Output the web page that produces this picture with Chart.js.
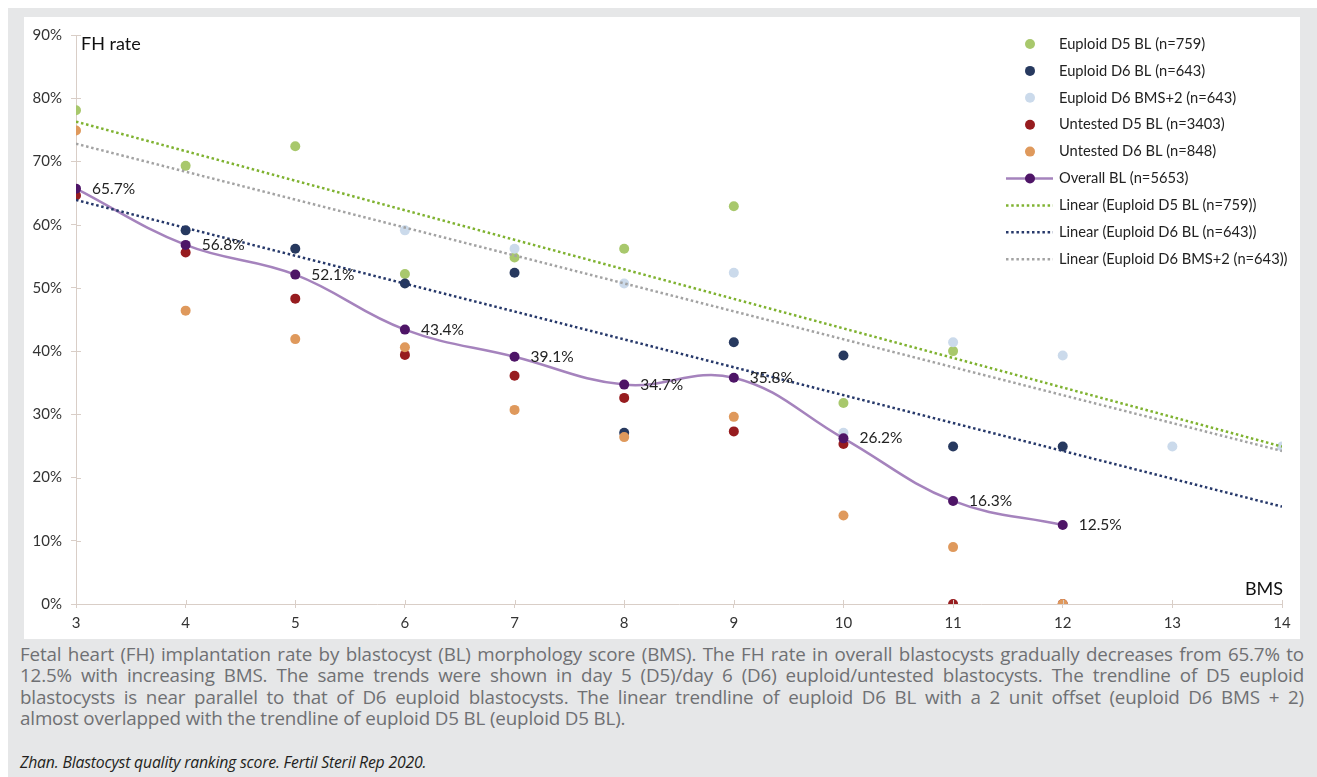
<!DOCTYPE html>
<html>
<head>
<meta charset="utf-8">
<script src="https://cdn.jsdelivr.net/npm/chart.js@4.4.0/dist/chart.umd.min.js"></script>
<style>
  body { margin: 0; background: #fff; width: 1317px; height: 777px; overflow: hidden; position: relative; }
  #frame { position: absolute; left: 8px; top: 8px; width: 1309px; height: 769px; background: #e6e7e8; }
  #panel { position: absolute; left: 16px; top: 9px; width: 1276px; height: 622px; background: #fff; }
  #caption { position: absolute; left: 12px; top: 636px; width: 1284px; font-family: "Open Sans", sans-serif; font-size: 18.8px; letter-spacing: -0.15px; line-height: 21.3px; color: #6f7073; }
  #caption div { text-align: justify; text-align-last: justify; white-space: nowrap; }
  #caption div.last { text-align-last: left; }
  #cite { position: absolute; left: 12px; top: 743px; font-family: "Open Sans", sans-serif; font-style: italic; font-size: 15.8px; letter-spacing: -0.2px; color: #231f20; }
</style>
</head>
<body>
<div id="frame">
  <div id="panel"><canvas id="myChart" width="1276" height="622"></canvas></div>
  <div id="caption">
    <div>Fetal heart (FH) implantation rate by blastocyst (BL) morphology score (BMS). The FH rate in overall blastocysts gradually decreases from 65.7% to</div>
    <div>12.5% with increasing BMS. The same trends were shown in day 5 (D5)/day 6 (D6) euploid/untested blastocysts. The trendline of D5 euploid</div>
    <div>blastocysts is near parallel to that of D6 euploid blastocysts. The linear trendline of euploid D6 BL with a 2 unit offset (euploid D6 BMS + 2)</div>
    <div class="last">almost overlapped with the trendline of euploid D5 BL (euploid D5 BL).</div>
  </div>
  <div id="cite">Zhan. Blastocyst quality ranking score. Fertil Steril Rep 2020.</div>
</div>
<script>
var bms = [3, 4, 5, 6, 7, 8, 9, 10, 11, 12];
var bmsPlus2 = [6, 7, 8, 9, 10, 11, 12, 13, 14];
var euploidD5 = [78.1, 69.3, 72.4, 52.2, 54.8, 56.2, 62.9, 31.8, 40.0, null];
var euploidD6 = [null, 59.1, 56.2, 50.7, 52.4, 27.1, 41.4, 39.3, 24.9, 24.9];
var euploidD6Plus2 = [59.1, 56.2, 50.7, 52.4, 27.1, 41.4, 39.3, 24.9, 24.9];
var untestedD5 = [64.6, 55.6, 48.3, 39.4, 36.1, 32.6, 27.3, 25.3, 0, 0];
var untestedD6 = [74.9, 46.4, 41.9, 40.6, 30.7, 26.4, 29.6, 14.0, 9.0, 0];
var overall = [65.7, 56.8, 52.1, 43.4, 39.1, 34.7, 35.8, 26.2, 16.3, 12.5];

// trendline ends, read at BMS 3 and 14
var trendX = [3, 14];
var trendD5 = [76.3, 24.9];
var trendD6 = [63.9, 15.4];
var trendD6Plus2 = [72.8, 24.2];

var yTicks = [0, 10, 20, 30, 40, 50, 60, 70, 80, 90];

var tan = "#d9cec7";
var font = "Lato, 'Open Sans', sans-serif";

function pts(xs, ys) {
  var out = [];
  for (var i = 0; i < xs.length; i++) {
    if (ys[i] !== null) out.push({ x: xs[i], y: ys[i] });
  }
  return out;
}

function dots(label, xs, ys, color, order) {
  return {
    label: label, data: pts(xs, ys), kind: "dot",
    pointRadius: 5, pointHoverRadius: 5, pointBorderWidth: 0,
    backgroundColor: color, borderColor: color, order: order
  };
}

function trend(label, ys, color, order) {
  return {
    label: label, data: pts(trendX, ys), kind: "trend",
    showLine: true, pointRadius: 0, borderColor: color, borderWidth: 2.5,
    borderDash: [2.5, 2.7], order: order
  };
}

var datasets = [
  dots("Euploid D5 BL (n=759)", bms, euploidD5, "#a8c86c", 10),
  dots("Euploid D6 BL (n=643)", bms, euploidD6, "#27395f", 9),
  dots("Euploid D6 BMS+2 (n=643)", bmsPlus2, euploidD6Plus2, "#cbdaeb", 8),
  dots("Untested D5 BL (n=3403)", bms, untestedD5, "#971c1f", 7),
  dots("Untested D6 BL (n=848)", bms, untestedD6, "#df995c", 6),
  {
    label: "Overall BL (n=5653)", data: pts(bms, overall), kind: "line",
    showLine: true, tension: 0.4, borderColor: "#a583bd", borderWidth: 2.5,
    pointRadius: 5, pointHoverRadius: 5, pointBorderWidth: 0,
    pointBackgroundColor: "#4e1567", backgroundColor: "#4e1567", order: 4
  },
  trend("Linear (Euploid D5 BL (n=759))", trendD5, "#7fb230", 3),
  trend("Linear (Euploid D6 BL (n=643))", trendD6, "#26386a", 2),
  trend("Linear (Euploid D6 BMS+2 (n=643))", trendD6Plus2, "#a3a3a3", 1)
];

var extras = {
  id: "extras",
  afterDraw: function (chart) {
    var ctx = chart.ctx;
    var xs = chart.scales.x, ys = chart.scales.y;
    var area = chart.chartArea;
    ctx.save();

    // inner half of the tick marks
    ctx.strokeStyle = tan;
    ctx.lineWidth = 1;
    yTicks.forEach(function (v) {
      var py = Math.round(ys.getPixelForValue(v)) + 0.5;
      ctx.beginPath(); ctx.moveTo(area.left, py); ctx.lineTo(area.left + 5, py); ctx.stroke();
    });
    for (var b = 3; b <= 14; b++) {
      var px = Math.round(xs.getPixelForValue(b)) + 0.5;
      ctx.beginPath(); ctx.moveTo(px, area.bottom); ctx.lineTo(px, area.bottom - 4); ctx.stroke();
    }

    // axis titles
    ctx.fillStyle = "#111";
    ctx.font = "18px " + font;
    ctx.textBaseline = "middle";
    ctx.textAlign = "left";
    ctx.fillText("FH rate", area.left + 5, 27);
    ctx.textAlign = "right";
    ctx.fillText("BMS", area.right + 1, 572);

    // value labels on the overall line
    var meta = chart.getDatasetMeta(5);
    ctx.font = "15.5px " + font;
    ctx.fillStyle = "#222";
    ctx.textAlign = "left";
    meta.data.forEach(function (p, i) {
      ctx.fillText(overall[i].toFixed(1) + "%", p.x + 16, p.y);
    });

    // legend
    var lx = 1006, ly = 27, step = 26.9;
    ctx.font = "14.7px " + font;
    chart.data.datasets.forEach(function (ds, i) {
      var y = ly + i * step;
      if (ds.kind === "dot" || ds.kind === "line") {
        if (ds.kind === "line") {
          ctx.strokeStyle = ds.borderColor; ctx.lineWidth = 2.5; ctx.setLineDash([]);
          ctx.beginPath(); ctx.moveTo(lx - 24, y); ctx.lineTo(lx + 23, y); ctx.stroke();
        }
        ctx.fillStyle = ds.backgroundColor;
        ctx.beginPath(); ctx.arc(lx, y, 5, 0, Math.PI * 2); ctx.fill();
      } else {
        ctx.strokeStyle = ds.borderColor; ctx.lineWidth = 2.5; ctx.setLineDash(ds.borderDash);
        ctx.beginPath(); ctx.moveTo(lx - 24, y); ctx.lineTo(lx + 23, y); ctx.stroke();
        ctx.setLineDash([]);
      }
      ctx.fillStyle = "#222";
      ctx.fillText(ds.label, 1035, y);
    });
    ctx.restore();
  }
};

new Chart("myChart", {
  type: "scatter",
  data: { datasets: datasets },
  options: {
    responsive: false,
    animation: false,
    layout: { padding: { top: 15, right: 18, left: 0, bottom: 0 } },
    plugins: { legend: { display: false }, tooltip: { enabled: false } },
    scales: {
      x: {
        type: "linear", min: 3, max: 14,
        afterFit: function (s) { s.height = 35; },
        border: { color: tan, width: 1 },
        grid: { drawOnChartArea: false, tickLength: 4, color: tan },
        ticks: { stepSize: 1, padding: 6, color: "#333", font: { family: font, size: 15 } }
      },
      y: {
        type: "linear", min: 0, max: 90,
        afterFit: function (s) { s.width = 52; },
        border: { color: tan, width: 1 },
        grid: { drawOnChartArea: false, tickLength: 5, color: tan },
        ticks: {
          stepSize: 10, padding: 9, color: "#333", font: { family: font, size: 15 },
          callback: function (v) { return v + "%"; }
        }
      }
    }
  },
  plugins: [extras]
});
</script>
</body>
</html>
